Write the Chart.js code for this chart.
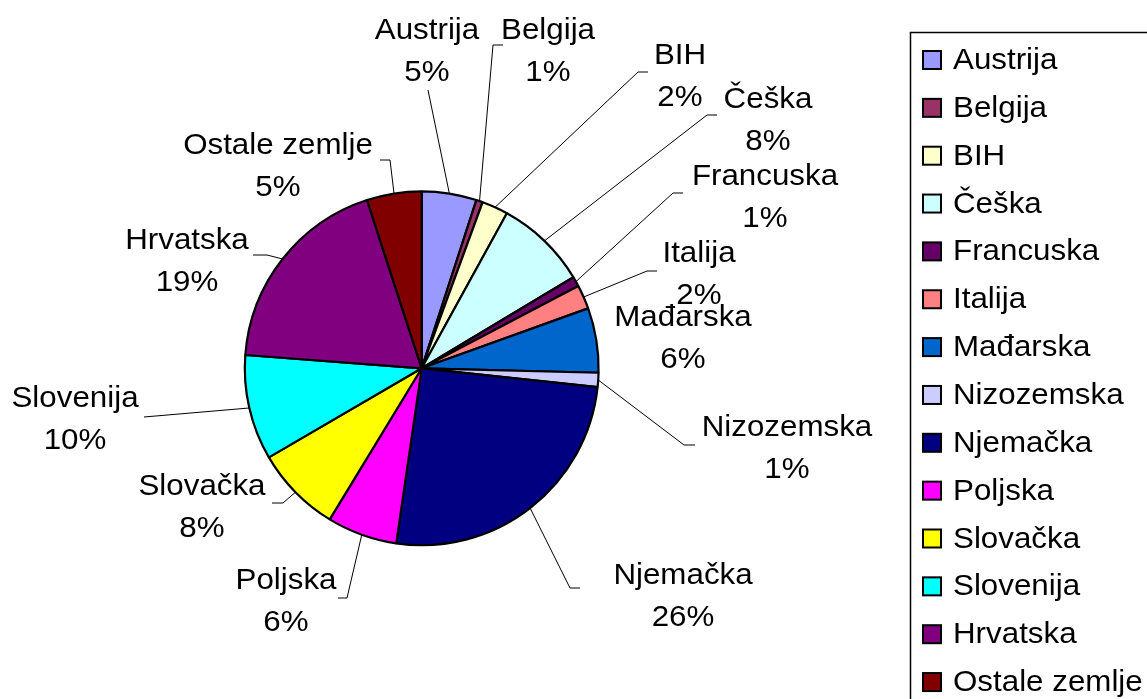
<!DOCTYPE html>
<html>
<head>
<meta charset="utf-8">
<script src="https://cdn.jsdelivr.net/npm/chart.js@4"></script>
<style>
  html, body { margin: 0; padding: 0; background: #fff; }
  #wrap { width: 1147px; height: 699px; position: relative; }
</style>
</head>
<body>
<div id="wrap"><canvas id="pieChart"></canvas></div>
<script>
const countries = ['Austrija', 'Belgija', 'BIH', 'Češka', 'Francuska', 'Italija', 'Mađarska',
  'Nizozemska', 'Njemačka', 'Poljska', 'Slovačka', 'Slovenija', 'Hrvatska', 'Ostale zemlje'];
const shares = [5.0, 0.6, 2.4, 8.4, 0.9, 2.2, 5.9, 1.3, 25.6, 6.4, 7.9, 9.6, 18.8, 5.0];
const colors = ['#9999FF', '#993366', '#FFFFCC', '#CCFFFF', '#660066', '#FF8080', '#0066CC',
  '#CCCCFF', '#000080', '#FF00FF', '#FFFF00', '#00FFFF', '#800080', '#800000'];

// where each data label sits (centre of first line) and the elbow of its leader line
const labelPlaces = [
  { x: 427, y: 31, leader: [[428, 90]] },
  { x: 548, y: 31, leader: [[503, 45], [493, 45]] },
  { x: 680, y: 56, leader: [[648, 72], [638, 72]] },
  { x: 768, y: 100, leader: [[717, 115], [707, 115]] },
  { x: 765, y: 177, leader: [[683, 193], [673, 193]] },
  { x: 699, y: 254, leader: [[657, 271], [647, 271]] },
  { x: 683, y: 318, leader: [] },
  { x: 787, y: 428, leader: [[695, 445], [684, 445]] },
  { x: 683, y: 576, leader: [[580, 588], [570, 588]] },
  { x: 286, y: 581, leader: [[338, 598], [347, 598]] },
  { x: 202, y: 487, leader: [[272, 503], [283, 503]] },
  { x: 75, y: 399, leader: [[144, 417]] },
  { x: 187, y: 241, leader: [[253, 255], [267, 255]] },
  { x: 278, y: 146, leader: [[380, 160], [390, 160]] }
];

const FONT = '29px "Liberation Sans", Arial, sans-serif';
const STRETCH = 1.08;

function stretchedText(ctx, text, x, y) {
  ctx.save();
  ctx.translate(x, y);
  ctx.scale(STRETCH, 1);
  ctx.fillText(text, 0, 0);
  ctx.restore();
}

const labelsAndLegend = {
  id: 'labelsAndLegend',
  afterDatasetsDraw(chart) {
    const ctx = chart.ctx;
    const total = shares.reduce((a, b) => a + b, 0);
    const arcs = chart.getDatasetMeta(0).data;
    ctx.save();
    ctx.strokeStyle = '#000';
    ctx.lineWidth = 1;
    arcs.forEach((arc, i) => {
      const p = arc.getProps(['x', 'y', 'startAngle', 'endAngle', 'outerRadius'], true);
      const mid = (p.startAngle + p.endAngle) / 2;
      const place = labelPlaces[i];
      if (place.leader.length) {
        ctx.beginPath();
        ctx.moveTo(p.x + Math.cos(mid) * p.outerRadius, p.y + Math.sin(mid) * p.outerRadius);
        for (let k = place.leader.length - 1; k >= 0; k--) {
          ctx.lineTo(place.leader[k][0], place.leader[k][1]);
        }
        ctx.stroke();
      }
    });
    ctx.font = FONT;
    ctx.fillStyle = '#000';
    ctx.textAlign = 'center';
    ctx.textBaseline = 'middle';
    countries.forEach((name, i) => {
      const place = labelPlaces[i];
      const pct = Math.round(shares[i] * 100 / total) + '%';
      stretchedText(ctx, name, place.x, place.y);
      stretchedText(ctx, pct, place.x, place.y + 42);
    });

    // legend box
    ctx.lineWidth = 1.5;
    ctx.strokeStyle = '#000';
    ctx.strokeRect(910.5, 32.5, 300, 700);
    ctx.textAlign = 'left';
    countries.forEach((name, i) => {
      const cy = 60 + i * 47.85;
      ctx.fillStyle = colors[i];
      ctx.fillRect(923, cy - 9, 18, 18);
      ctx.strokeStyle = '#000';
      ctx.lineWidth = 2;
      ctx.strokeRect(923, cy - 9, 18, 18);
      ctx.fillStyle = '#000';
      stretchedText(ctx, name, 953, cy + 1);
    });
    ctx.restore();
  }
};

new Chart(document.getElementById('pieChart').getContext('2d'), {
  type: 'pie',
  data: {
    labels: countries,
    datasets: [{
      data: shares,
      backgroundColor: colors,
      borderColor: '#000',
      borderWidth: 2.2
    }]
  },
  options: {
    responsive: true,
    maintainAspectRatio: false,
    animation: false,
    layout: { padding: { left: 243.7, right: 547.3, top: 190.3, bottom: 152.7 } },
    plugins: { legend: { display: false }, tooltip: { enabled: false } }
  },
  plugins: [labelsAndLegend]
});
</script>
</body>
</html>
